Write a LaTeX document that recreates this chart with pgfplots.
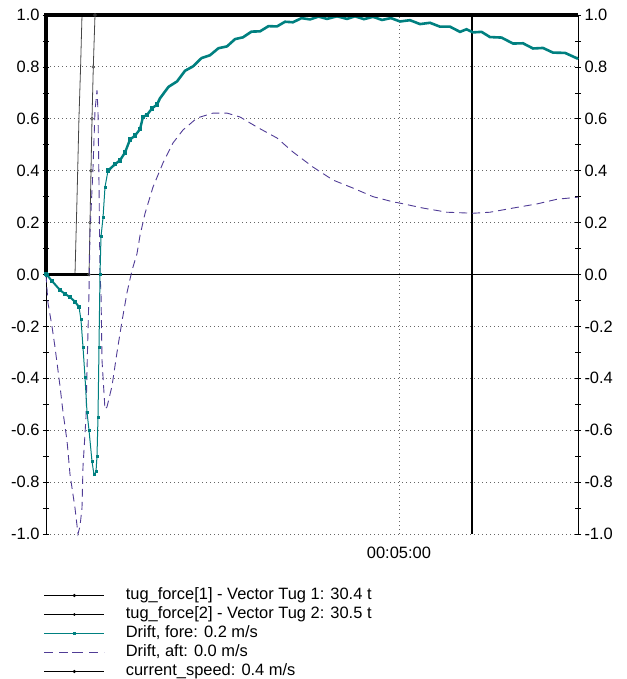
\documentclass[border=0pt]{standalone}
\usepackage{fontspec}
\setmainfont{Liberation Sans}
\usepackage{pgfplots}
\pgfplotsset{compat=1.18}

\definecolor{driftfore}{RGB}{0,128,128}
\definecolor{driftaft}{RGB}{80,60,150}
\definecolor{tugline}{RGB}{70,70,70}

% time in seconds, 00:05:00 = 300 s
\pgfplotsset{
  chartbase/.style={
    width=532bp, height=519bp, scale only axis,
    at={(0,0)}, anchor=south west,
    xmin=0, xmax=452.2, ymin=-1, ymax=1,
    clip=false,
    ytick={-1,-0.8,...,1.01},
    minor y tick num=1,
    tick align=center,
    major tick length=6bp, minor tick length=6bp,
    every tick/.style={black, line width=0.6bp},
    separate axis lines,
    x axis line style={draw=none},
    y axis line style={black, line width=0.8bp},
    xtick={300}, xticklabels={00:05:00},
    xtick style={draw=none},
    tick label style={font=\fontsize{16.5}{19}\selectfont},
    yticklabel style={/pgf/number format/fixed,
      /pgf/number format/fixed zerofill,
      /pgf/number format/precision=1,
      /pgf/number format/assume math mode=true},
  }
}

\begin{document}
\begin{tikzpicture}
\useasboundingbox (-46bp,-145bp) rectangle (581bp,534bp);

\begin{axis}[chartbase,
  yticklabel pos=left,
  ymajorgrids, xmajorgrids,
  major grid style={gray!80!black, line width=0.8bp, dash pattern=on 1bp off 3bp},
  extra y ticks={0}, extra y tick labels={},
  extra y tick style={grid=major, major grid style={solid, black, line width=0.8bp}},
  xticklabel style={yshift=-6bp},
  legend style={at={(axis description cs:0,0)}, anchor=north west,
    xshift=-2bp, yshift=-52bp, draw=none, fill=none,
    inner sep=0pt, outer sep=0pt,
    font=\fontsize{16.5}{19}\selectfont,
    nodes={inner sep=0pt, text height=13bp, text depth=6bp},
    row sep=0pt,
    /tikz/every odd column/.append style={column sep=21bp},
    cells={anchor=west}},
  legend image code/.code={\draw[mark repeat=2,mark phase=2,#1]
    plot coordinates {(0bp,0bp)(30bp,0bp)(60bp,0bp)};},
]

% cursor
\addplot[forget plot, black, line width=2bp] coordinates {(362.1,-1)(362.1,1)};

% tug_force[1]
\addplot[forget plot, tugline, line width=0.8bp] coordinates {
(0,0)(24.65,0)(26.4,0.3)(28.0,0.6)(29.4,0.8)(30.6,1.0)(452.2,1.0)};
% tug_force[2]
\addplot[forget plot, black, line width=3.5bp] coordinates {(0,0)(36.55,0)};
\addplot[forget plot, tugline, line width=0.8bp, mark=o, mark size=1.4bp,
  mark options={solid, line width=0.6bp}] coordinates {
(36.55,0)(37.4,0.2)(38.25,0.4)(39.1,0.6)(40.2,0.8)(41.65,1.0)};
\addplot[forget plot, tugline, line width=0.8bp] coordinates {(41.65,1.0)(452.2,1.0)};

% Drift, aft
\addplot[forget plot, driftaft, line width=0.9bp, dash pattern=on 8bp off 5bp] coordinates {
(0,0)(1.7,-0.11)(5.1,-0.2)(7.65,-0.28)(11.9,-0.43)(14.45,-0.53)(17.85,-0.64)
(20.4,-0.77)(24.65,-0.90)(27.2,-1.0)(28.9,-0.97)(30.6,-0.9)(31.45,-0.74)
(34.0,-0.55)(34.85,-0.37)(36.55,-0.07)(37.4,0.16)(39.95,0.41)(41.65,0.63)
(43.35,0.71)(44.2,0.63)(45.05,0.35)(45.9,0.0)(46.75,-0.07)(47.6,-0.33)
(50.15,-0.52)(51.85,-0.51)(56.1,-0.43)(60.35,-0.30)(64.6,-0.18)(68.85,-0.07)
(73.1,0.016)(77.35,0.08)(79.9,0.15)(84.15,0.235)(90.95,0.337)(99.45,0.43)
(107.95,0.507)(116.45,0.557)(128.35,0.603)(141.95,0.622)(153.85,0.622)
(164.9,0.607)(179.35,0.568)(196.35,0.526)(209.95,0.472)(226.95,0.414)
(243.95,0.364)(260.95,0.333)(277.95,0.30)(294.95,0.28)(300.9,0.275)
(320.45,0.256)(340.85,0.24)(362.95,0.236)(377.4,0.24)(396.95,0.256)
(417.35,0.272)(434.35,0.29)(452.2,0.298)};

% Drift, fore
\addplot[forget plot, driftfore, line width=2bp, mark=square*, mark size=1bp] coordinates {
(0,0)(0.85,-0.002)(5.1,-0.025)(11.9,-0.06)(16.15,-0.075)(20.4,-0.087)
(24.65,-0.105)(28.05,-0.125)};
\addplot[forget plot, driftfore, line width=1bp, mark=square*, mark size=1bp] coordinates {
(28.05,-0.125)(29.75,-0.175)(31.45,-0.28)(33.15,-0.395)
(34.85,-0.53)(36.55,-0.60)(39.1,-0.72)(40.8,-0.772)(42.5,-0.76)(43.35,-0.70)
(44.2,-0.55)(45.05,-0.28)(45.9,0.0)(46.75,0.146)(48.45,0.218)(50.15,0.337)
(52.7,0.40)};
\addplot[forget plot, driftfore, line width=2.4bp, mark=square*, mark size=1bp] coordinates {
(52.7,0.40)(58.65,0.425)(62.9,0.44)(67.15,0.47)(71.4,0.52)(75.65,0.535)
(79.9,0.56)(82.45,0.607)(85.85,0.615)(90.1,0.64)(94.35,0.655)};
\addplot[forget plot, driftfore, line width=2.6bp] coordinates {
(94.35,0.655)(96.9,0.679)(104.1,0.723)(111.35,0.744)(118.15,0.785)(124.95,0.802)
(132.2,0.834)(139.4,0.845)(146.6,0.872)(153.85,0.879)(160.65,0.907)
(167.45,0.914)(174.7,0.936)(181.9,0.937)(189.1,0.957)(196.35,0.956)
(203.15,0.974)(209.95,0.972)(217.2,0.988)(224.4,0.983)(231.6,0.994)
(238.85,0.985)(247.35,0.995)(255.85,0.985)(262.65,0.995)(270.3,0.984)
(277.95,0.993)(285.6,0.981)(293.25,0.988)(300.9,0.975)(309.4,0.98)
(317.9,0.965)(326.4,0.97)(334.9,0.955)(343.4,0.955)(351.9,0.935)
(357.4,0.945)(362.95,0.933)(370.2,0.935)(377.4,0.915)(387.2,0.913)
(396.95,0.89)(405.45,0.891)(413.95,0.871)(422.45,0.873)(430.95,0.855)
(441.15,0.854)(451.35,0.833)(452.2,0.836)};

% current_speed
\addplot[forget plot, black, line width=4bp] coordinates {(0,0)(0,1)(452.2,1)};

% legend
\addlegendimage{black, line width=0.8bp, mark=*, mark size=1.1bp}
\addlegendentry{tug\_force[1] - Vector Tug 1: 30.4 t}
\addlegendimage{black, line width=0.8bp, mark=*, mark size=0.9bp}
\addlegendentry{tug\_force[2] - Vector Tug 2: 30.5 t}
\addlegendimage{driftfore, line width=0.8bp, mark=square*, mark size=1bp}
\addlegendentry{Drift, fore: 0.2 m/s}
\addlegendimage{driftaft, line width=0.8bp, dash pattern=on 9bp off 6bp, mark=-, mark size=2bp, mark options={solid}}
\addlegendentry{Drift, aft: 0.0 m/s}
\addlegendimage{black, line width=0.8bp, mark=*, mark size=1.1bp}
\addlegendentry{current\_speed: 0.4 m/s}
\end{axis}

\begin{axis}[chartbase,
  yticklabel pos=right,
  xticklabels={},
  axis line style={draw=none},
  every tick/.style={draw=none},
]
\end{axis}
\end{tikzpicture}
\end{document}
